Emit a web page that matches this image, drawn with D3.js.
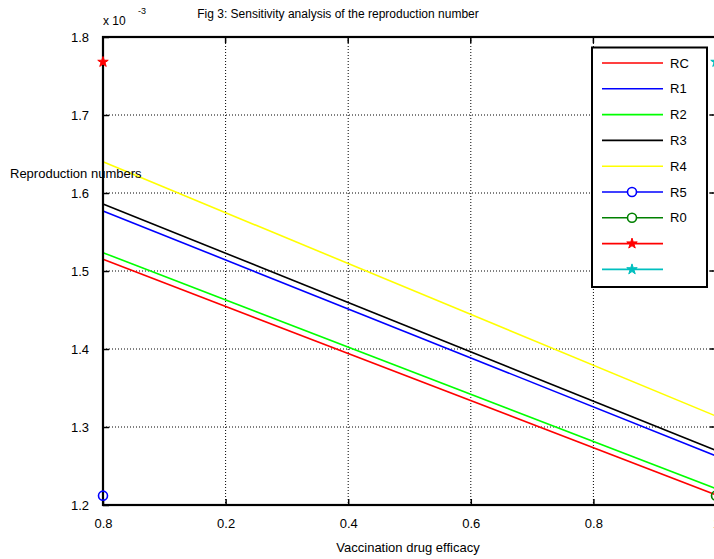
<!DOCTYPE html>
<html><head><meta charset="utf-8">
<script src="https://cdn.jsdelivr.net/npm/d3@7"></script>
<style>body{margin:0;background:#fff}svg{display:block;font-family:"Liberation Sans",Arial,sans-serif}</style>
</head><body><svg id="c" width="714" height="559"></svg>
<script>
const xTicks = [0, 0.2, 0.4, 0.6, 0.8, 1];
const xTickLabels = ["0.8", "0.2", "0.4", "0.6", "0.8", "1"];
const yTicks = [1.2, 1.3, 1.4, 1.5, 1.6, 1.7, 1.8];
const xs = [0, 1];
const names = ["RC", "R1", "R2", "R3", "R4"];
const colors = ["#ff0000", "#0000ff", "#00ff00", "#000000", "#ffff00"];
const RC = [1.515, 1.213];
const R1 = [1.577, 1.263];
const R2 = [1.5235, 1.221];
const R3 = [1.586, 1.270];
const R4 = [1.640, 1.314];
const seriesVals = [RC, R1, R2, R3, R4];
const circlePts = [{x: 0, y: 1.212, c: "#0000ff", name: "R5"}, {x: 1, y: 1.212, c: "#008000", name: "R0"}];
const starPts = [{x: 0, y: 1.768, c: "#ff0000", name: ""}, {x: 1, y: 1.768, c: "#00bfbf", name: ""}];

const svg = d3.select("#c");
const L = 103, R = 716, T = 37, B = 505;
const x = d3.scaleLinear().domain([0, 1]).range([L, R]);
const y = d3.scaleLinear().domain([1.2, 1.8]).range([B, T]);

// grid
const g = svg.append("g");
g.selectAll(".gx").data(xTicks.slice(1, -1)).join("line")
  .attr("x1", d => x(d)).attr("x2", d => x(d)).attr("y1", T).attr("y2", B)
  .attr("stroke", "#000").attr("stroke-width", 1).attr("stroke-dasharray", "1,2");
g.selectAll(".gy").data(yTicks.slice(1, -1)).join("line")
  .attr("y1", d => y(d)).attr("y2", d => y(d)).attr("x1", L).attr("x2", R)
  .attr("stroke", "#000").attr("stroke-width", 1).attr("stroke-dasharray", "1,2");

// axes
const xa = svg.append("g").attr("transform", `translate(0,${B})`)
  .call(d3.axisBottom(x).tickValues(xTicks).tickSizeInner(-6).tickSizeOuter(0).tickPadding(14).tickFormat((d, i) => xTickLabels[i]));
const ya = svg.append("g").attr("transform", `translate(${L},0)`)
  .call(d3.axisLeft(y).tickValues(yTicks).tickSizeInner(-6).tickSizeOuter(0).tickPadding(14).tickFormat(d3.format(".1f")));
[xa, ya].forEach(a => {
  a.select(".domain").remove();
  a.selectAll("line").attr("stroke", "#000").attr("stroke-width", 1.5);
  a.selectAll("text").attr("font-size", 13).attr("fill", "#000").attr("font-family", "Liberation Sans, Arial, sans-serif");
});
// right/top ticks
svg.selectAll(".ry").data(yTicks).join("line")
  .attr("x1", R - 6).attr("x2", R).attr("y1", d => y(d)).attr("y2", d => y(d)).attr("stroke", "#000").attr("stroke-width", 1.5);
svg.selectAll(".tx").data(xTicks).join("line")
  .attr("y1", T).attr("y2", T + 6).attr("x1", d => x(d)).attr("x2", d => x(d)).attr("stroke", "#000").attr("stroke-width", 1.5);

// lines
const line = d3.line().x((d, i) => x(xs[i])).y(d => y(d));
seriesVals.forEach((v, k) => {
  svg.append("path").attr("d", line(v)).attr("fill", "none").attr("stroke", colors[k]).attr("stroke-width", 1.6);
});

// frame
svg.append("rect").attr("x", L).attr("y", T).attr("width", R - L).attr("height", B - T)
  .attr("fill", "none").attr("stroke", "#000").attr("stroke-width", 2.2);

// markers
const star = d3.symbol().type(d3.symbolStar).size(34);
svg.selectAll(".circ").data(circlePts).join("circle")
  .attr("cx", d => x(d.x)).attr("cy", d => y(d.y)).attr("r", 4.5)
  .attr("fill", "none").attr("stroke", d => d.c).attr("stroke-width", 1.6);
svg.selectAll(".star").data(starPts).join("path")
  .attr("d", star).attr("transform", d => `translate(${x(d.x)},${y(d.y)})`)
  .attr("fill", d => d.c).attr("stroke", d => d.c).attr("stroke-width", 1);

// legend
const lg = svg.append("g");
lg.append("rect").attr("x", 592).attr("y", 47.5).attr("width", 115).attr("height", 239.5)
  .attr("fill", "#fff").attr("stroke", "#000").attr("stroke-width", 2);
const legItems = names.map((n, i) => ({name: n, c: colors[i], m: null}))
  .concat(circlePts.map(d => ({name: d.name, c: d.c, m: "circle"})))
  .concat(starPts.map(d => ({name: d.name, c: d.c, m: "star"})));
legItems.forEach((d, i) => {
  const yy = 63 + i * 25.8;
  lg.append("line").attr("x1", 602).attr("x2", 663).attr("y1", yy).attr("y2", yy).attr("stroke", d.c).attr("stroke-width", 1.6);
  if (d.m === "circle") lg.append("circle").attr("cx", 632).attr("cy", yy).attr("r", 4.5).attr("fill", "#fff").attr("stroke", d.c).attr("stroke-width", 1.6);
  if (d.m === "star") lg.append("path").attr("d", star).attr("transform", `translate(632,${yy})`).attr("fill", d.c).attr("stroke", d.c);
  lg.append("text").attr("x", 670).attr("y", yy + 4.5).attr("font-size", 13).text(d.name);
});

// texts
svg.append("text").attr("x", 338).attr("y", 18).attr("text-anchor", "middle").attr("font-size", 12).text("Fig 3: Sensitivity analysis of the reproduction number");
svg.append("text").attr("x", 103).attr("y", 25).attr("font-size", 12).text("x 10");
svg.append("text").attr("x", 138).attr("y", 14).attr("font-size", 9).text("-3");
svg.append("text").attr("x", 10).attr("y", 178).attr("font-size", 13).text("Reproduction numbers");
svg.append("text").attr("x", 408).attr("y", 552).attr("text-anchor", "middle").attr("font-size", 13).text("Vaccination drug efficacy");
</script></body></html>
